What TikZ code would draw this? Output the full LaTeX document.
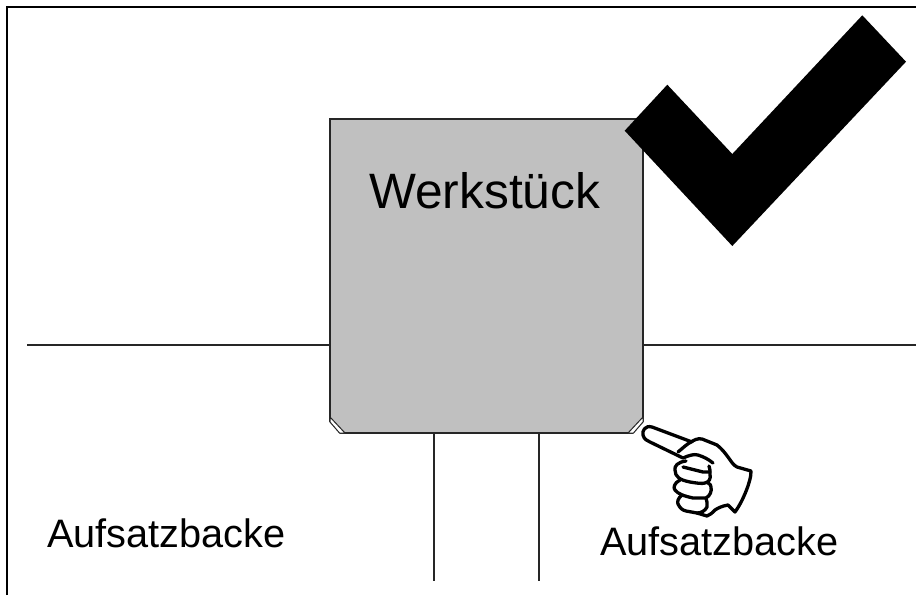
\documentclass[tikz,border=0pt]{standalone}
\usepackage{fontspec}
\setmainfont{Liberation Sans}
\tikzset{
  px/.style={x=1pt,y=-1pt},
  frameline/.style={draw=black,line width=2.5pt},
  thinline/.style={draw=black!85,line width=1.2pt},
  workbox/.style={draw=black!85,line width=1.2pt,fill=boxgray,rectangle,inner sep=0pt,minimum width=313pt,minimum height=314pt},
  chamfer/.style={draw=black!85,line width=1pt,fill=white,line join=round},
  handline/.style={draw=black,line width=3.3pt,line cap=round,line join=round},
  lab/.style={inner sep=0pt,anchor=base west,font=\fontsize{39.7pt}{44pt}\selectfont},
  biglab/.style={inner sep=0pt,anchor=base west,font=\fontsize{49.7pt}{54pt}\selectfont}
}
\definecolor{boxgray}{RGB}{192,192,192}
\begin{document}
\begin{tikzpicture}[px]
\useasboundingbox (0,0) rectangle (916,595);
\fill[white] (0,0) rectangle (916,595);
\draw[frameline] (7,595) -- (7,7) -- (916,7);
% work piece
\node[workbox] (box) at (486.5,276) {};
\coordinate (leftend) at (27,345);
\coordinate (rightend) at (916,345);
\coordinate (legA) at (434,581);
\coordinate (legB) at (539,581);
\draw[thinline] (leftend) -- (leftend -| box.west);
\draw[thinline] (rightend) -- (rightend -| box.east);
\draw[thinline] (legA |- box.south) -- (legA);
\draw[thinline] (legB |- box.south) -- (legB);
% chamfers
\fill[white] (329,421.5) -- (329,434) -- (340,434) -- cycle;
\fill[white] (644,421.5) -- (644,434) -- (633,434) -- cycle;
\draw[chamfer] (330,417) -- (345,433) -- (339.5,433) -- (330,422) -- cycle;
\draw[chamfer] (643,417) -- (628,433) -- (633.5,433) -- (643,422) -- cycle;
\node[biglab] (werk) at (369,208) {Werkstück};
\node[lab] (aufL) at (47,547) {Aufsatzbacke};
\node[lab] (aufR) at (600,555) {Aufsatzbacke};
% check mark
\fill[black] (624.7,130.7) -- (667.3,84.7) -- (732.3,154) -- (862.3,15.3) -- (906,61.7) -- (732.3,246) -- cycle;
% hand
\draw[handline] (692,442) -- (652,427) .. controls (645,425) and (642,431) .. (643,435) .. controls (644,439) and (647,441) .. (650,442) -- (683,458);
\draw[handline] (678,452) .. controls (684,447) and (687,444) .. (691,442) .. controls (694,440) and (698,438) .. (702,439) -- (717,445) .. controls (722,449) and (725,453) .. (728,457) .. controls (731,461) and (733,465) .. (737,467) -- (751,471) .. controls (751,478) and (749,482) .. (748,486) .. controls (744,497) and (740,505) .. (735,512) -- (728,505) .. controls (722,506) and (718,508) .. (715,510) .. controls (712,513) and (710,515) .. (707,516) -- (697,513);
\draw[handline] (683,458) .. controls (690,455) and (694,454) .. (698,455) .. controls (704,457) and (708,459) .. (713,463);
% fingers
\draw[handline] (686,461) .. controls (678,462) and (674,466) .. (675,470) .. controls (675,477) and (680,480) .. (690,482) .. controls (696,483) and (702,484) .. (705,483) .. controls (709,482) and (711,479) .. (710,474) .. controls (710,471) and (710,468) .. (709,466);
\draw[handline] (683,467) -- (703,472) -- (710,472);
\draw[handline] (680,480) .. controls (674,483) and (673,488) .. (675,490) .. controls (678,494) and (684,496) .. (693,498) -- (706,498) .. controls (710,496) and (712,491) .. (711,487) .. controls (711,485) and (710,484) .. (708,483);
\draw[handline] (682,495) .. controls (678,498) and (677,502) .. (678,504) .. controls (680,508) and (682,510) .. (686,511) -- (697,513) .. controls (701,513) and (705,511) .. (707,507) .. controls (707,503) and (707,500) .. (706,498);
\end{tikzpicture}
\end{document}
